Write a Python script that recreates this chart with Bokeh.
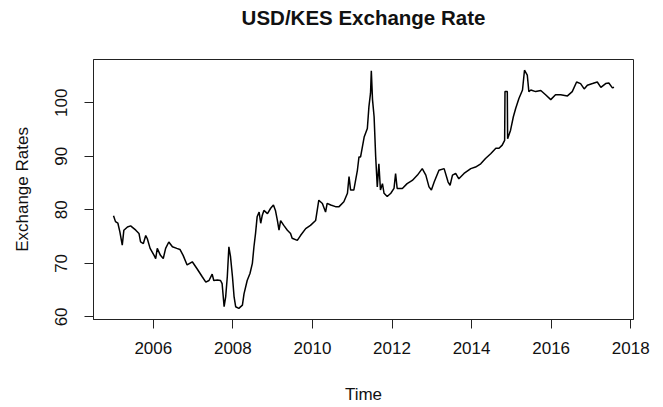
from bokeh.plotting import figure
from bokeh.models import Range1d, FixedTicker, Title
from bokeh.embed import file_html
from bokeh.resources import INLINE

# Decimal-year time and USD/KES exchange rate
years = [
    2005.00, 2005.05, 2005.11, 2005.16, 2005.22, 2005.26, 2005.35, 2005.43, 2005.56, 2005.64,
    2005.68, 2005.75, 2005.81, 2005.85, 2005.92, 2006.02, 2006.06, 2006.10, 2006.18, 2006.25,
    2006.31, 2006.39, 2006.48, 2006.59, 2006.67, 2006.75, 2006.85, 2006.98, 2007.10, 2007.23,
    2007.32, 2007.40, 2007.48, 2007.52, 2007.61, 2007.69, 2007.73, 2007.78, 2007.82, 2007.86,
    2007.90, 2007.94, 2007.99, 2008.03, 2008.07, 2008.15, 2008.24, 2008.28, 2008.36, 2008.43,
    2008.49, 2008.53, 2008.57, 2008.61, 2008.66, 2008.70, 2008.74, 2008.78, 2008.87, 2008.95,
    2009.02, 2009.07, 2009.12, 2009.16, 2009.20, 2009.28, 2009.37, 2009.45, 2009.49, 2009.62,
    2009.70, 2009.83, 2009.95, 2010.08, 2010.16, 2010.25, 2010.33, 2010.37, 2010.46, 2010.58,
    2010.67, 2010.79, 2010.88, 2010.92, 2010.96, 2011.04, 2011.13, 2011.17, 2011.21, 2011.30,
    2011.38, 2011.42, 2011.46, 2011.48, 2011.51, 2011.55, 2011.59, 2011.63, 2011.67, 2011.71,
    2011.76, 2011.80, 2011.88, 2011.97, 2012.05, 2012.09, 2012.13, 2012.26, 2012.38, 2012.51,
    2012.64, 2012.76, 2012.85, 2012.93, 2012.99, 2013.06, 2013.18, 2013.31, 2013.41, 2013.46,
    2013.52, 2013.60, 2013.68, 2013.81, 2013.98, 2014.10, 2014.23, 2014.35, 2014.48, 2014.61,
    2014.69, 2014.77, 2014.831, 2014.840, 2014.898, 2014.906, 2014.98, 2015.05, 2015.11, 2015.19,
    2015.28, 2015.33, 2015.40, 2015.44, 2015.49, 2015.61, 2015.74, 2015.86, 2015.99, 2016.11,
    2016.24, 2016.41, 2016.53, 2016.64, 2016.74, 2016.83, 2016.91, 2017.04, 2017.16, 2017.25,
    2017.37, 2017.45, 2017.54, 2017.58,
]
rates = [
    78.9, 77.8, 77.5, 75.9, 73.4, 76.2, 76.8, 77.0, 76.2, 75.6,
    74.0, 73.7, 75.2, 74.6, 72.8, 71.5, 70.9, 72.8, 71.5, 70.9,
    72.8, 74.0, 73.1, 72.8, 72.6, 71.5, 69.7, 70.3, 69.0, 67.5,
    66.5, 66.8, 68.0, 66.8, 66.9, 66.8, 66.2, 61.9, 63.8, 67.5,
    73.1, 71.3, 67.5, 63.8, 61.9, 61.6, 62.2, 64.3, 66.8, 68.1,
    70.0, 73.1, 75.6, 78.7, 79.6, 77.5, 79.0, 79.9, 79.3, 80.3,
    80.9, 79.9, 78.0, 76.2, 78.0, 77.1, 76.2, 75.6, 74.7, 74.3,
    75.2, 76.5, 77.1, 78.0, 81.8, 81.2, 79.6, 81.2, 80.9, 80.6,
    80.6, 81.5, 83.1, 86.2, 83.7, 83.7, 87.4, 89.9, 89.9, 93.6,
    95.2, 99.3, 101.8, 106.0, 100.6, 97.4, 89.9, 84.3, 88.6, 83.7,
    84.9, 83.1, 82.5, 83.1, 84.0, 86.8, 84.0, 84.0, 84.9, 85.5,
    86.5, 87.7, 86.5, 84.3, 83.7, 85.2, 87.4, 87.7, 85.2, 84.6,
    86.5, 86.8, 85.8, 86.8, 87.7, 88.0, 88.6, 89.6, 90.5, 91.5,
    91.5, 92.1, 93.0, 102.1, 102.1, 93.3, 94.9, 97.4, 99.0, 100.8,
    102.4, 106.1, 105.2, 102.1, 102.4, 102.1, 102.3, 101.5, 100.6, 101.5,
    101.5, 101.3, 102.1, 103.9, 103.6, 102.6, 103.3, 103.6, 103.9, 102.9,
    103.6, 103.7, 102.8, 102.9,
]

x_ticks = [2006, 2008, 2010, 2012, 2014, 2016, 2018]
y_ticks = [60, 70, 80, 90, 100]
title_text = "USD/KES Exchange Rate"

FONT = "Liberation Sans"
TXT = "#111111"

p = figure(
    width=663, height=407, title=None,
    output_backend="svg", toolbar_location=None,
    x_range=Range1d(2004.497, 2018.07),
    y_range=Range1d(59.51, 108.1),
    min_border_left=93, min_border_right=30,
    min_border_top=59, min_border_bottom=88,
)

p.line(years, rates, line_color="black", line_width=1.5)

# empty spacer next to the frame, then the real title further out
p.add_layout(Title(text=" ", text_font=FONT, text_font_size="20.5px", standoff=3,
                   align="center"), "above")
p.add_layout(Title(text=title_text, text_font=FONT, text_font_size="20.5px",
                   text_font_style="bold", text_color=TXT, align="center",
                   standoff=6), "above")

p.xgrid.visible = False
p.ygrid.visible = False
p.outline_line_color = "#222222"
p.outline_line_width = 1
p.background_fill_color = "white"
p.border_fill_color = "white"

for ax in (p.xaxis[0], p.yaxis[0]):
    ax.axis_line_color = "#222222"
    ax.major_tick_line_color = "#222222"
    ax.major_tick_out = 9
    ax.major_tick_in = 0
    ax.minor_tick_line_color = None
    ax.major_label_text_font = FONT
    ax.major_label_text_font_size = "17px"
    ax.major_label_text_color = TXT
    ax.axis_label_text_font = FONT
    ax.axis_label_text_font_size = "17px"
    ax.axis_label_text_font_style = "normal"
    ax.axis_label_text_color = TXT

p.xaxis.ticker = FixedTicker(ticks=x_ticks)
p.yaxis.ticker = FixedTicker(ticks=y_ticks)
p.xaxis.axis_label = "Time"
p.yaxis.axis_label = "Exchange Rates"
p.xaxis.major_label_standoff = 13
p.xaxis.axis_label_standoff = 28
p.yaxis.major_label_standoff = 17
p.yaxis.axis_label_standoff = 21
p.yaxis.major_label_orientation = "vertical"

open("out.html", "w").write(file_html(p, INLINE))
